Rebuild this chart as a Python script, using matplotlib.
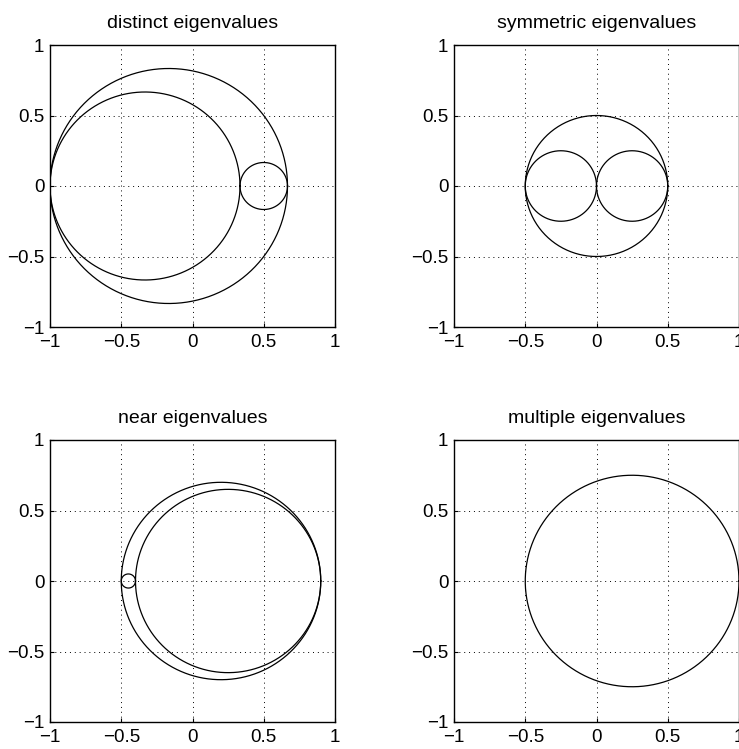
import numpy as np
import matplotlib
matplotlib.use('Agg')
import matplotlib.pyplot as plt

plt.rcParams['font.family'] = ['Liberation Sans', 'DejaVu Sans']

titles = ['distinct eigenvalues', 'symmetric eigenvalues',
          'near eigenvalues', 'multiple eigenvalues']

# circle centres and radii for each panel
centres = [[-1/6, -1/3, 1/2],
           [0.0, -0.25, 0.25],
           [0.2, 0.25, -0.45],
           [0.25]]
radii = [[5/6, 2/3, 1/6],
         [0.5, 0.25, 0.25],
         [0.7, 0.65, 0.05],
         [0.75]]

ticks = [-1, -0.5, 0, 0.5, 1]
ticklabels = ['\u22121', '\u22120.5', '0', '0.5', '1']

fig = plt.figure(figsize=(7.39, 7.49), dpi=100)
W, H = 739, 749
boxes = [(50, 45), (454, 45), (50, 440), (454, 440)]  # left, top in px
aw, ah = 285, 282

t = np.linspace(0, 2*np.pi, 400)
for i in range(4):
    l, tp = boxes[i]
    ax = fig.add_axes([l/W, 1 - (tp+ah)/H, aw/W, ah/H])
    for c, r in zip(centres[i], radii[i]):
        ax.plot(c + r*np.cos(t), r*np.sin(t), color='black', lw=0.9)
    ax.set_xlim(-1, 1)
    ax.set_ylim(-1, 1)
    ax.set_xticks(ticks)
    ax.set_yticks(ticks)
    ax.set_xticklabels(ticklabels)
    ax.set_yticklabels(ticklabels)
    ax.tick_params(direction='in', length=3, labelsize=13.5, color='black')
    ax.tick_params(axis='x', pad=5)
    ax.tick_params(axis='y', pad=4)
    ax.grid(True, color='black', linestyle=(0, (1, 4)), linewidth=0.7)
    for s in ax.spines.values():
        s.set_linewidth(1.0)
    ax.set_title(titles[i], fontsize=14, pad=12)

fig.savefig('out.png', dpi=100)
